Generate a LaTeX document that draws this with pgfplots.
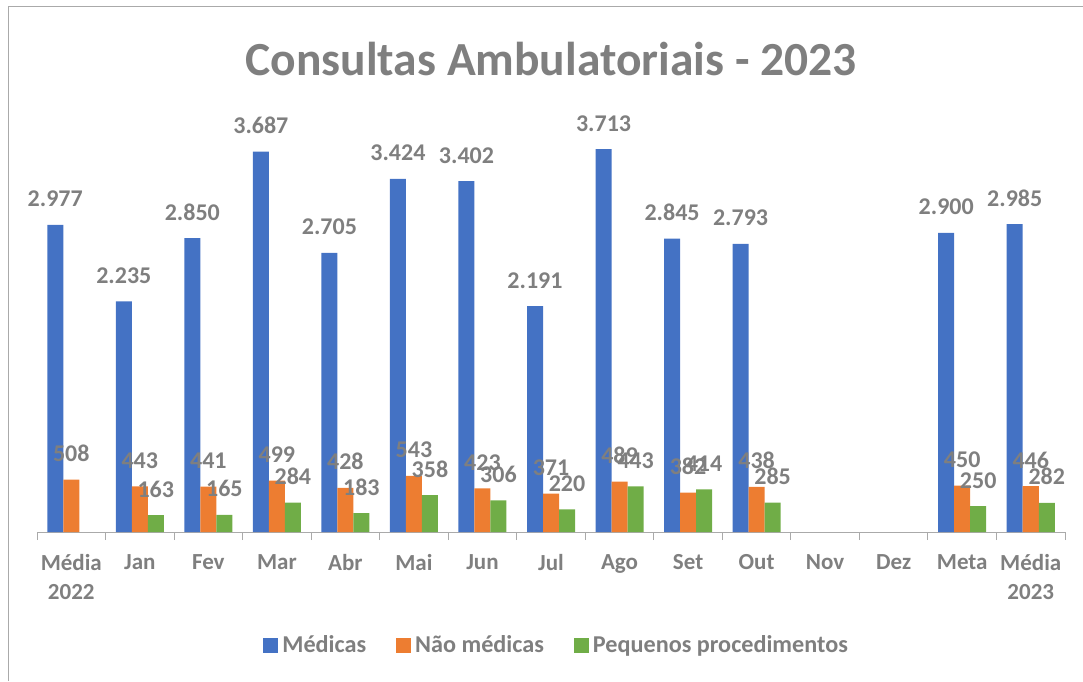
\documentclass[border=0pt]{standalone}
\usepackage{pgfplots}
\pgfplotsset{compat=1.18}
\usepackage{fontspec}
\setmainfont{Carlito}
\definecolor{cblue}{HTML}{4472C4}
\definecolor{corange}{HTML}{ED7D31}
\definecolor{cgreen}{HTML}{70AD47}
\definecolor{txt}{RGB}{127,127,127}
\definecolor{axisgray}{RGB}{170,170,170}
\begin{document}
\begin{tikzpicture}[x=1pt,y=1pt]
\path[use as bounding box] (0,0) rectangle (1083,681);
\draw[color=axisgray, line width=1pt] (8,0) -- (8,674) -- (1083,674);
\node[anchor=base, text=txt, font=\fontsize{47.5}{56}\selectfont\bfseries] at (551,605) {Consultas Ambulatoriais - 2023};
\begin{axis}[
  at={(37pt,149pt)}, anchor=south west,
  scale only axis, width=1028pt, height=412.6pt,
  xmin=-0.5, xmax=14.5, ymin=0, ymax=4000,
  ybar=0pt, bar width=16pt,
  axis x line=bottom, axis y line=none,
  x axis line style={-, draw=axisgray, line width=1pt},
  xtick={0,...,14}, major tick length=0pt,
  minor xtick={-0.5,0.5,...,14.5}, minor tick length=8pt, tick align=outside,
  minor tick style={draw=axisgray, line width=1pt},
  xticklabels={{Média\\2022},Jan,Fev,Mar,Abr,Mai,Jun,Jul,Ago,Set,Out,Nov,Dez,Meta,{Média\\2023}},
  xticklabel style={align=center, text=txt, font=\fontsize{23}{29}\selectfont\bfseries, anchor=north, inner sep=0pt, yshift=-22pt},
  clip=false,
  nodes near coords,
  nodes near coords style={anchor=base, yshift=18pt, text=txt, font=\fontsize{24}{28}\selectfont\bfseries, inner sep=0pt},
  /pgf/number format/1000 sep={.},
  /pgf/number format/assume math mode=true,
  legend style={at={(0.5055,-0.274)}, anchor=center, draw=none, legend columns=3,
    font=\fontsize{24.2}{28}\selectfont\bfseries, text=txt},
  legend image code/.code={\fill[#1] (0pt,-7.5pt) rectangle (15pt,7.5pt);},
]
\addplot[fill=cblue, draw=none] coordinates {(0,2977)(1,2235)(2,2850)(3,3687)(4,2705)(5,3424)(6,3402)(7,2191)(8,3713)(9,2845)(10,2793)(13,2900)(14,2985)};
\addplot[fill=corange, draw=none] coordinates {(0,508)(1,443)(2,441)(3,499)(4,428)(5,543)(6,423)(7,371)(8,489)(9,382)(10,438)(13,450)(14,446)};
\addplot[fill=cgreen, draw=none] coordinates {(1,163)(2,165)(3,284)(4,183)(5,358)(6,306)(7,220)(8,443)(9,414)(10,285)(13,250)(14,282)};
\legend{\rule{2pt}{0pt}Médicas\rule{28pt}{0pt}, \rule{2pt}{0pt}Não médicas\rule{28pt}{0pt}, \rule{2pt}{0pt}Pequenos procedimentos}
\end{axis}
\end{tikzpicture}
\end{document}
